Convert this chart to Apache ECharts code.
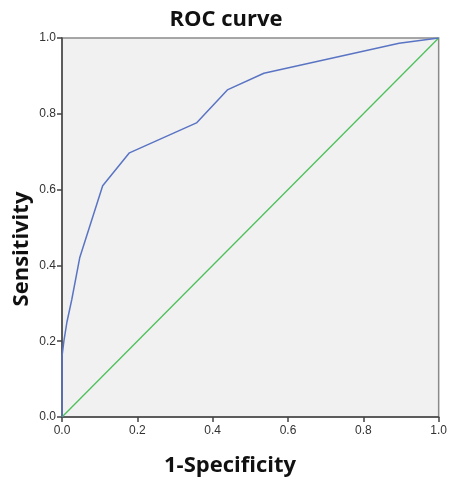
<!DOCTYPE html>
<html>
<head>
<meta charset="utf-8">
<script src="https://cdn.jsdelivr.net/npm/echarts@6/dist/echarts.min.js"></script>
<style>
  html, body { margin: 0; padding: 0; background: #fff; }
  #rocChart { width: 450px; height: 479px; }
</style>
</head>
<body>
<div id="rocChart"></div>
<script>
  // ROC curve points (1-specificity, sensitivity)
  var fpr = [0, 0, 0.005, 0.013, 0.026, 0.047, 0.108, 0.179, 0.357, 0.439, 0.536, 0.895, 1];
  var tpr = [0, 0.16, 0.2, 0.25, 0.31, 0.42, 0.61, 0.697, 0.776, 0.863, 0.907, 0.986, 1];
  // reference diagonal
  var refX = [0, 1];
  var refY = [0, 1];

  function pairs(xs, ys) {
    return xs.map(function (x, i) { return [x, ys[i]]; });
  }

  var chart = echarts.init(document.getElementById('rocChart'));
  var axisCommon = {
    type: 'value',
    min: 0,
    max: 1,
    interval: 0.2,
    axisLine: { show: true, onZero: false, lineStyle: { color: '#444', width: 1.5 } },
    axisTick: { show: true, inside: false, length: 5, lineStyle: { color: '#444', width: 1.5 } },
    axisLabel: {
      color: '#333',
      fontSize: 12,
      fontFamily: 'Liberation Sans, Arial, sans-serif',
      formatter: function (v) { return v.toFixed(1); }
    },
    splitLine: { show: false }
  };

  var option = {
    animation: false,
    title: {
      text: 'ROC curve',
      left: 221,
      top: 4,
      textAlign: 'center',
      textStyle: { fontSize: 22, fontWeight: 'bold', color: '#111', fontFamily: 'Open Sans, sans-serif' }
    },
    grid: {
      left: 62,
      top: 38,
      width: 379,
      height: 379,
      show: true,
      backgroundColor: '#f1f1f1',
      borderColor: '#8a8a8a',
      borderWidth: 1.5
    },
    xAxis: Object.assign({}, axisCommon, {
      axisLabel: Object.assign({}, axisCommon.axisLabel, { margin: 8 })
    }),
    yAxis: Object.assign({}, axisCommon, {
      axisLabel: Object.assign({}, axisCommon.axisLabel, { margin: 6 })
    }),
    graphic: [
      {
        type: 'text',
        x: 230, y: 466,
        style: {
          text: '1-Specificity',
          align: 'center', verticalAlign: 'middle',
          font: 'bold 22px "Open Sans", sans-serif',
          fill: '#111'
        }
      },
      {
        type: 'text',
        rotation: Math.PI / 2,
        x: 22, y: 249,
        style: {
          text: 'Sensitivity',
          align: 'center', verticalAlign: 'middle',
          font: 'bold 22px "Open Sans", sans-serif',
          fill: '#111'
        }
      }
    ],
    series: [
      {
        type: 'line',
        data: pairs(refX, refY),
        showSymbol: false,
        lineStyle: { color: '#4cc05a', width: 1.3 },
        z: 2
      },
      {
        type: 'line',
        data: pairs(fpr, tpr),
        showSymbol: false,
        smooth: false,
        lineStyle: { color: '#5a74c4', width: 1.5 },
        z: 3
      }
    ]
  };
  chart.setOption(option);
  window.addEventListener('resize', function () { chart.resize(); });
</script>
</body>
</html>
